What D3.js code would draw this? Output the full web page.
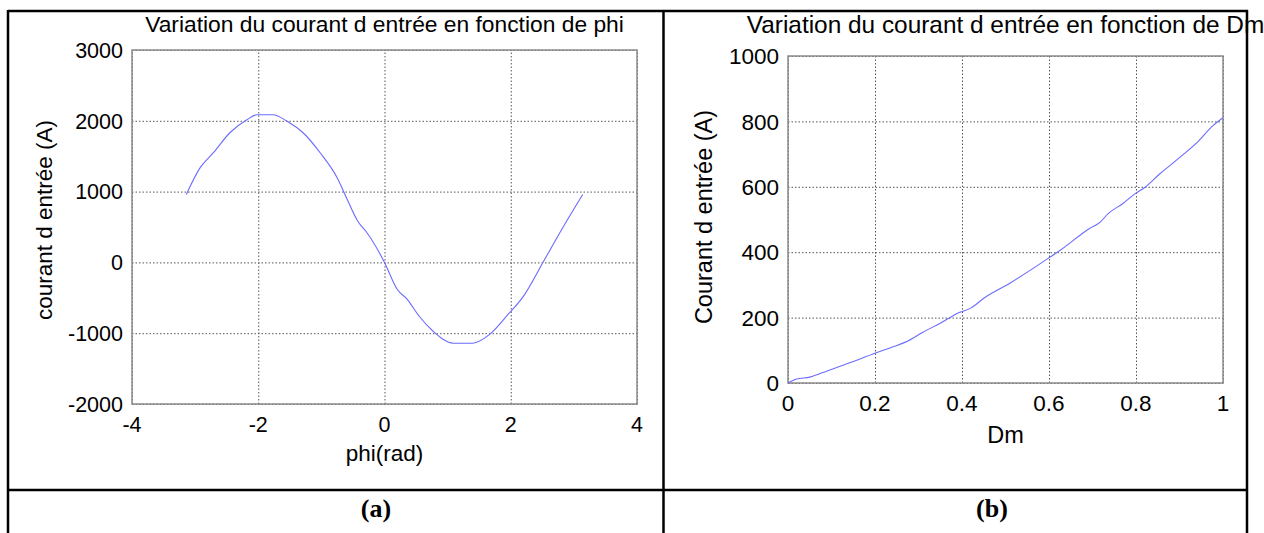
<!DOCTYPE html>
<html>
<head>
<meta charset="utf-8">
<script src="https://cdn.jsdelivr.net/npm/d3@7"></script>
<style>
  body { margin: 0; background: #fff; }
  svg { display: block; }
  .tick-label { font-family: "Liberation Sans", Arial, sans-serif; fill: #000; }
  .caption { font-family: "Liberation Serif", "Times New Roman", serif; font-weight: bold; fill: #000; }
</style>
</head>
<body>
<svg width="1264" height="533"></svg>
<script>
var svg = d3.select('svg');

// (a) courant d'entree vs phi
var phiValues = [-3.14, -2.92, -2.71, -2.45, -2.18, -2.02, -1.77, -1.53, -1.29, -1.02, -0.75, -0.59,
  -0.42, -0.28, 0, 0.20, 0.36, 0.55, 0.77, 1.09, 1.40, 1.67, 1.96, 2.20, 2.51, 2.78, 3.14];
var phiCurrent = [960, 1338, 1549, 1831, 2014, 2085, 2085, 1986, 1831, 1549, 1197, 887,
  577, 423, 0, -380, -521, -761, -972, -1141, -1141, -1014, -732, -479, 0, 423, 958];

// (b) courant d'entree vs Dm
var dmValues = [0, 0.02, 0.05, 0.09, 0.14, 0.2, 0.24, 0.27, 0.31, 0.35, 0.395, 0.42, 0.45, 0.51,
  0.598, 0.625, 0.694, 0.717, 0.736, 0.77, 0.798, 0.82, 0.855, 0.9, 0.94, 0.977, 1.0];
var dmCurrent = [0, 12, 18, 37, 61, 91, 110, 125, 155, 183, 216, 229, 259, 305,
  381, 405, 473, 491, 518, 549, 579, 598, 640, 689, 735, 787, 811];

var phiXTicks = [-4, -2, 0, 2, 4];
var phiYTicks = [-2000, -1000, 0, 1000, 2000, 3000];
var dmXTicks = [0, 0.2, 0.4, 0.6, 0.8, 1];
var dmYTicks = [0, 200, 400, 600, 800, 1000];

var panels = [
  {
    left: 132, right: 637, top: 50, bottom: 404,
    xs: phiValues, ys: phiCurrent, xTicks: phiXTicks, yTicks: phiYTicks,
    title: 'Variation du courant d entrée en fonction de phi',
    xLabel: 'phi(rad)', yLabel: 'courant d entrée (A)',
    tickSize: 21.5, labelSize: 22.5, titleSize: 22.8,
    yLabelX: 52, yLabelY: 220, xLabelY: 461, titleY: 32, tickGap: 9
  },
  {
    left: 788, right: 1223, top: 56, bottom: 383,
    xs: dmValues, ys: dmCurrent, xTicks: dmXTicks, yTicks: dmYTicks,
    title: 'Variation du courant d entrée en fonction de Dm',
    xLabel: 'Dm', yLabel: 'Courant d entrée (A)',
    tickSize: 22.5, labelSize: 23.5, titleSize: 24.4,
    yLabelX: 712, yLabelY: 217, xLabelY: 443, titleY: 33, tickGap: 9
  }
];

panels.forEach(function(p) {
  var x = d3.scaleLinear()
    .domain(d3.extent(p.xTicks))
    .range([p.left, p.right]);
  var y = d3.scaleLinear()
    .domain(d3.extent(p.yTicks))
    .range([p.bottom, p.top]);

  var g = svg.append('g');

  // dotted grid
  g.append('g')
    .attr('transform', 'translate(0,' + p.bottom + ')')
    .call(d3.axisBottom(x).tickValues(p.xTicks).tickSize(-(p.bottom - p.top)).tickFormat(''))
    .call(function(a) { a.select('.domain').remove(); })
    .selectAll('line')
    .attr('stroke', '#555')
    .attr('stroke-dasharray', '1.5,2');

  g.append('g')
    .attr('transform', 'translate(' + p.left + ',0)')
    .call(d3.axisLeft(y).tickValues(p.yTicks).tickSize(-(p.right - p.left)).tickFormat(''))
    .call(function(a) { a.select('.domain').remove(); })
    .selectAll('line')
    .attr('stroke', '#555')
    .attr('stroke-dasharray', '1.5,2');

  // axes box
  g.append('rect')
    .attr('x', p.left)
    .attr('y', p.top)
    .attr('width', p.right - p.left)
    .attr('height', p.bottom - p.top)
    .attr('fill', 'none')
    .attr('stroke', '#8a8a8a')
    .attr('stroke-width', 1.5);

  // tick labels
  g.selectAll('.xt')
    .data(p.xTicks)
    .enter()
    .append('text')
    .attr('class', 'tick-label')
    .attr('x', function(d) { return x(d); })
    .attr('y', p.bottom + 28)
    .attr('text-anchor', 'middle')
    .attr('font-size', p.tickSize)
    .text(function(d) { return String(d); });

  g.selectAll('.yt')
    .data(p.yTicks)
    .enter()
    .append('text')
    .attr('class', 'tick-label')
    .attr('x', p.left - p.tickGap)
    .attr('y', function(d) { return y(d); })
    .attr('dy', '0.36em')
    .attr('text-anchor', 'end')
    .attr('font-size', p.tickSize)
    .text(function(d) { return String(d); });

  // the curve
  var line = d3.line()
    .x(function(d, i) { return x(p.xs[i]); })
    .y(function(d) { return y(d); })
    .curve(d3.curveMonotoneX);

  g.append('path')
    .datum(p.ys)
    .attr('d', line)
    .attr('fill', 'none')
    .attr('stroke', '#6b6bff')
    .attr('stroke-width', 1.1);

  // titles and labels
  g.append('text')
    .attr('class', 'tick-label')
    .attr('x', (p.left + p.right) / 2)
    .attr('y', p.titleY)
    .attr('text-anchor', 'middle')
    .attr('font-size', p.titleSize)
    .text(p.title);

  g.append('text')
    .attr('class', 'tick-label')
    .attr('x', (p.left + p.right) / 2)
    .attr('y', p.xLabelY)
    .attr('text-anchor', 'middle')
    .attr('font-size', p.labelSize)
    .text(p.xLabel);

  g.append('text')
    .attr('class', 'tick-label')
    .attr('transform', 'translate(' + p.yLabelX + ',' + p.yLabelY + ') rotate(-90)')
    .attr('text-anchor', 'middle')
    .attr('font-size', p.labelSize)
    .text(p.yLabel);
});

// table frame drawn on top
var frame = svg.append('g')
  .attr('stroke', '#000')
  .attr('stroke-width', 2.5);

frame.append('line').attr('x1', 8).attr('x2', 1248).attr('y1', 11).attr('y2', 11);
frame.append('line').attr('x1', 8).attr('x2', 1248).attr('y1', 490).attr('y2', 490);
frame.append('line').attr('x1', 8).attr('x2', 8).attr('y1', 10).attr('y2', 540);
frame.append('line').attr('x1', 663.5).attr('x2', 663.5).attr('y1', 10).attr('y2', 540);
frame.append('line').attr('x1', 1247).attr('x2', 1247).attr('y1', 10).attr('y2', 540);

// captions
svg.append('text')
  .attr('class', 'caption')
  .attr('x', 376)
  .attr('y', 517)
  .attr('text-anchor', 'middle')
  .attr('font-size', 26)
  .text('(a)');

svg.append('text')
  .attr('class', 'caption')
  .attr('x', 992)
  .attr('y', 517)
  .attr('text-anchor', 'middle')
  .attr('font-size', 26)
  .text('(b)');
</script>
</body>
</html>
